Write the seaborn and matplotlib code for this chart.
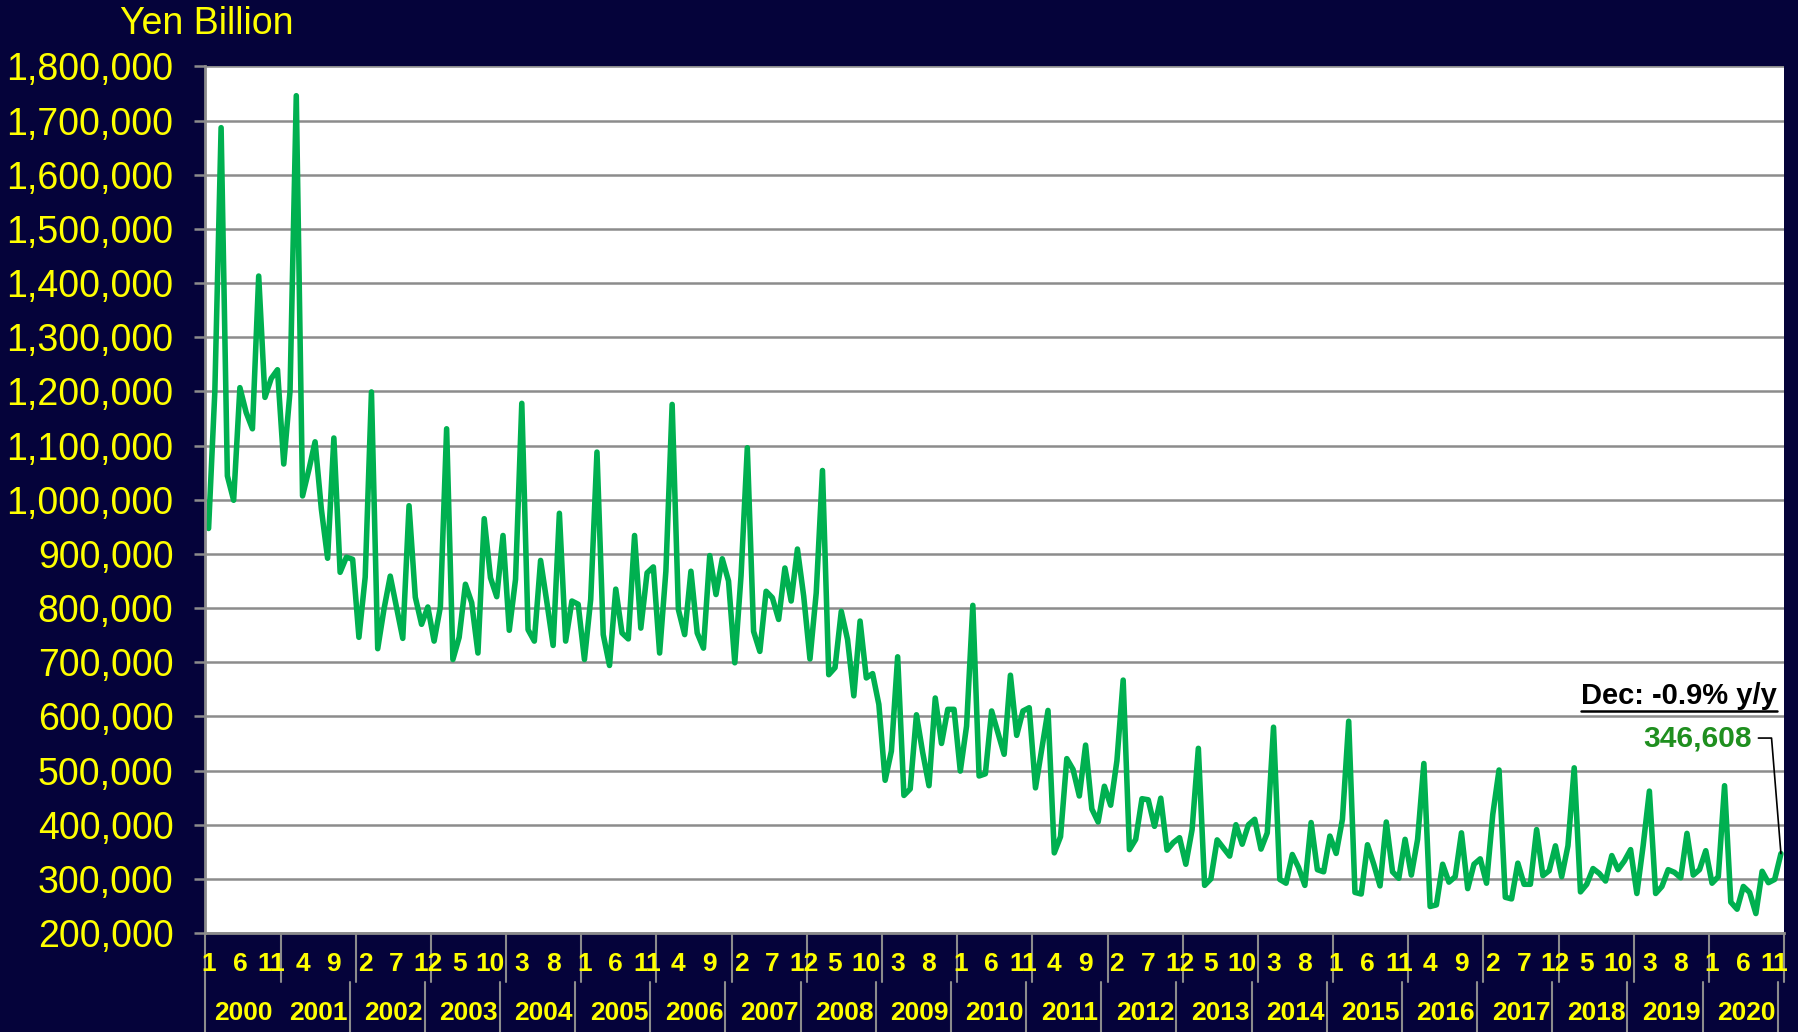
import matplotlib
matplotlib.use('Agg')
import matplotlib.pyplot as plt
import matplotlib.ticker as mticker
from matplotlib.lines import Line2D
from matplotlib.transforms import IdentityTransform
import seaborn as sns
import pandas as pd

# monthly values, yen billion (as labelled on the chart)
y2000 = [947, 1200, 1687, 1044, 999, 1207, 1161, 1131, 1413, 1189, 1224, 1240]
y2001 = [1066, 1200, 1746, 1007, 1055, 1107, 983, 892, 1114, 866, 894, 890]
y2002 = [746, 857, 1199, 725, 798, 859, 802, 744, 989, 820, 770, 802]
y2003 = [739, 802, 1131, 705, 746, 844, 810, 717, 965, 856, 821, 934]
y2004 = [759, 853, 1178, 760, 739, 888, 811, 731, 975, 739, 813, 807]
y2005 = [705, 816, 1088, 751, 694, 835, 754, 743, 934, 763, 865, 876]
y2006 = [717, 868, 1176, 797, 751, 868, 754, 726, 897, 825, 891, 850]
y2007 = [699, 860, 1096, 757, 720, 831, 819, 779, 874, 813, 909, 822]
y2008 = [706, 828, 1054, 677, 690, 794, 742, 638, 776, 671, 679, 622]
y2009 = [482, 536, 710, 454, 466, 603, 533, 472, 634, 550, 613, 613]
y2010 = [499, 582, 805, 490, 494, 610, 570, 530, 676, 565, 610, 616]
y2011 = [468, 539, 611, 348, 378, 522, 502, 453, 547, 429, 405, 471]
y2012 = [436, 518, 667, 354, 373, 448, 446, 397, 449, 353, 367, 376]
y2013 = [327, 391, 541, 288, 300, 372, 357, 342, 400, 364, 400, 410]
y2014 = [355, 385, 580, 299, 292, 345, 321, 288, 404, 317, 313, 379]
y2015 = [347, 410, 591, 275, 272, 363, 327, 287, 405, 313, 301, 373]
y2016 = [307, 373, 513, 249, 252, 327, 294, 304, 385, 282, 327, 337]
y2017 = [292, 419, 501, 266, 263, 329, 290, 290, 391, 306, 315, 361]
y2018 = [304, 361, 505, 276, 290, 319, 310, 296, 343, 317, 333, 354]
y2019 = [273, 361, 462, 273, 286, 317, 312, 302, 384, 307, 317, 352]
y2020 = [292, 304, 472, 257, 244, 286, 275, 236, 314, 293, 299, 346.608]

years = list(range(2000, 2021))
yearly = [y2000, y2001, y2002, y2003, y2004, y2005, y2006, y2007, y2008, y2009,
          y2010, y2011, y2012, y2013, y2014, y2015, y2016, y2017, y2018, y2019, y2020]

last_label = '346,608'
note_text = 'Dec: -0.9% y/y'

rows = []
for yr, vals in zip(years, yearly):
    for m, v in enumerate(vals):
        rows.append((yr, m + 1, v * 1000))
df = pd.DataFrame(rows, columns=['year', 'month', 'value'])
df['idx'] = range(len(df))

NAVY = '#05033a'
YELLOW = '#ffff00'
GRID = '#8c8c8c'
GREEN = '#00b050'

sns.set_style('white')
plt.rcParams['font.family'] = ['Liberation Sans', 'DejaVu Sans']

fig = plt.figure(figsize=(17.99, 10.32), dpi=100, facecolor=NAVY)
ax = fig.add_axes([0.1142, 0.0959, 0.8775, 0.8397])
ax.set_facecolor('white')

sns.lineplot(data=df, x='idx', y='value', color=GREEN, linewidth=4.0, ax=ax)
ax.lines[0].set_solid_joinstyle('round')
ax.lines[0].set_solid_capstyle('round')

n = len(df)
ax.set_xlim(-0.5, n - 0.5)
ax.set_ylim(200000, 1800000)
ax.set_yticks(range(200000, 1800001, 100000))
ax.yaxis.set_major_formatter(mticker.FuncFormatter(lambda v, p: f'{v:,.0f}'))
ax.yaxis.grid(True, color=GRID, linewidth=1.8)
ax.set_axisbelow(True)
ax.set_xticks([])
ax.set_xlabel('')
ax.set_ylabel('')
for s in ['top', 'right']:
    ax.spines[s].set_visible(False)
for s in ['left', 'bottom']:
    ax.spines[s].set_color(GRID)
    ax.spines[s].set_linewidth(2)
ax.tick_params(axis='y', labelcolor=YELLOW, color=GRID, length=8, width=1.8,
               labelsize=27, pad=15, left=True)

# month labels every 5 months, years below, with separators
xt = ax.get_xaxis_transform()
for i in range(0, n, 5):
    ax.text(i, -0.036, str(df['month'][i]), transform=xt, ha='center', va='center',
            color=YELLOW, fontsize=19, fontweight='bold')
for k, yr in enumerate(years):
    ax.text(k * 12 + 5.5, -0.092, str(yr), transform=xt, ha='center', va='center',
            color=YELLOW, fontsize=19, fontweight='bold')
for k in range(len(years) + 1):
    ax.plot([k * 12 - 0.5] * 2, [0, -0.0565], transform=xt, color=GRID, lw=1.5, clip_on=False)
    if k != 1:
        xb = -0.5 if k == 0 else k * 12 - 1.5
        ax.plot([xb] * 2, [-0.0565, -0.116], transform=xt, color=GRID, lw=1.5, clip_on=False)

fig.text(0.0667, 0.977, 'Yen Billion', color=YELLOW, fontsize=27, ha='left', va='center')

# callout for the latest value
last = df['value'].iloc[-1]
ax.text(246.3, 560000, last_label, color='#1f8f1f', fontsize=21.5, fontweight='bold',
        ha='right', va='center')
ax.plot([247.4, 249.5, n - 1], [560000, 560000, last], color='black', lw=1.2)
note = ax.text(250.4, 638000, note_text, color='black', fontsize=21, fontweight='bold',
               ha='right', va='center')

fig.canvas.draw()
bb = note.get_window_extent()
fig.add_artist(Line2D([bb.x0, bb.x1], [bb.y0 - 1, bb.y0 - 1], transform=IdentityTransform(),
                      color='black', lw=1.8))

fig.savefig('out.png', dpi=100, facecolor=NAVY)
